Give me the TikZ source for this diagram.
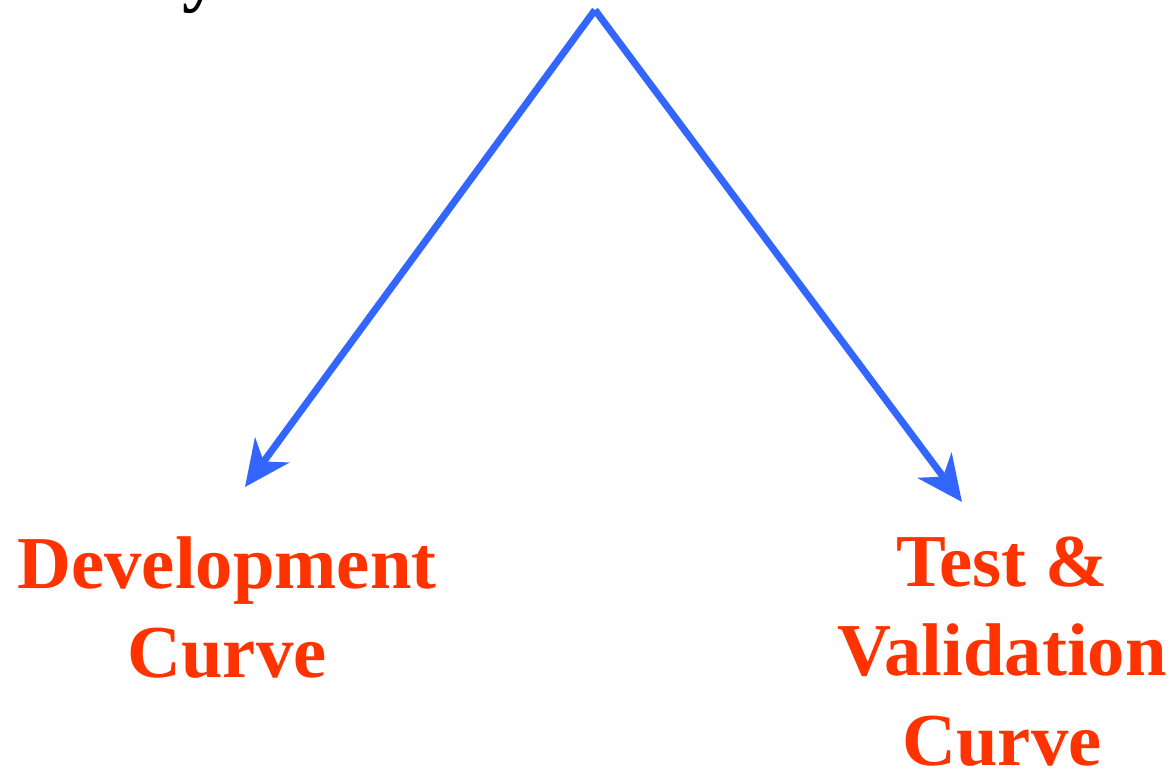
\documentclass[tikz,border=0pt]{standalone}
\usepackage{fontspec}
\setmainfont{Liberation Serif}
\usepackage{xcolor}
\usetikzlibrary{arrows.meta}
\definecolor{curvered}{RGB}{255,51,0}
\definecolor{arrowblue}{RGB}{51,102,255}

\begin{document}
\begin{tikzpicture}[
  x=0.02cm, y=-0.02cm,
  lbl/.style={align=center, inner sep=0pt, text=curvered, font=\bfseries\fontsize{42.5}{51}\selectfont},
  arr/.style={-{Stealth[length=26pt, width=24pt, inset=8pt]}, draw=arrowblue, line width=4pt}
]
  \useasboundingbox (0,0) rectangle (1176,769);
  % cut-off text above the page
  \node[anchor=base, inner sep=0pt, font=\bfseries\fontsize{42.5}{51}\selectfont] (head) at (201,-3) {y};

  \coordinate (top)   at (595,10);
  \coordinate (devtip) at (245,487);
  \coordinate (valtip) at (962,502);

  \node[lbl, anchor=north] (dev) at (227,536) {Development\\Curve};
  \node[lbl, anchor=north] (val) at (1002,536) {Test \&\\Validation\\Curve};

  \draw[arr] (top) -- (devtip);
  \draw[arr] (top) -- (valtip);
\end{tikzpicture}
\end{document}
